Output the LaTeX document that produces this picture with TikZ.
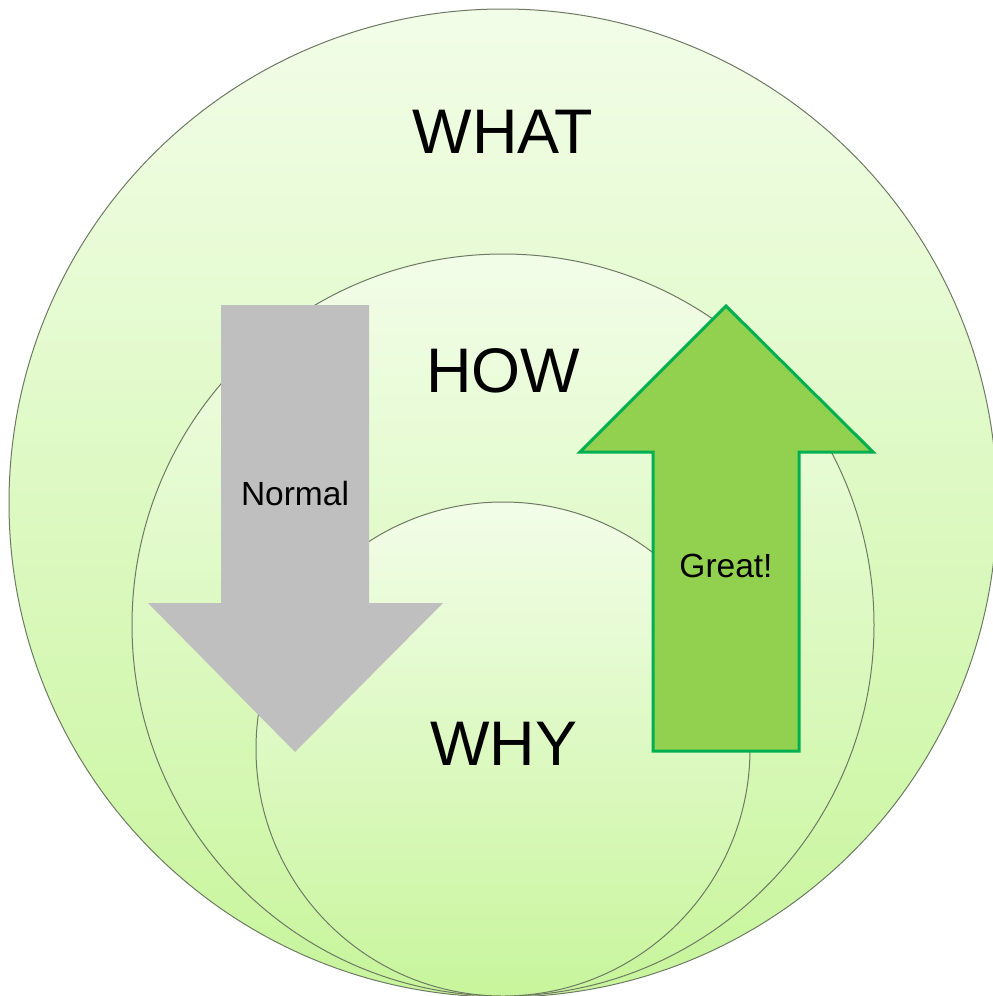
\documentclass[tikz,border=0pt]{standalone}
\usepackage{fontspec}
\setmainfont{Liberation Sans}
\begin{document}
\begin{tikzpicture}[x=1pt,y=-1pt,
  ring/.style={draw=ringline,line width=1pt,top color=ringtop,bottom color=ringbottom},
  bigword/.style={font=\fontsize{63}{63}\selectfont,inner sep=0pt,anchor=base},
  smallword/.style={font=\fontsize{33.5}{33.5}\selectfont,inner sep=0pt,anchor=base},
  greyarrow/.style={fill=arrowgrey,draw=none},
  greenarrow/.style={fill=arrowgreen,draw=arrowedge,line width=3pt,line join=miter}]
\definecolor{ringtop}{HTML}{F2FDE8}
\definecolor{ringbottom}{HTML}{C8F59C}
\definecolor{ringline}{HTML}{6E7A64}
\definecolor{arrowgrey}{HTML}{BFBFBF}
\definecolor{arrowgreen}{HTML}{92D050}
\definecolor{arrowedge}{HTML}{00B050}
\useasboundingbox (0,0) rectangle (993,996);
\begin{scope}
\clip (0,0) rectangle (993,996);
% nested circles, all touching at the bottom
\path[ring] (503,503) circle[radius=494];
\path[ring] (503,625) circle[radius=371];
\path[ring] (503,749) circle[radius=247];
\end{scope}
% downward grey arrow
\path[greyarrow] (221,305) -- (369,305) -- (369,603) -- (443,603) -- (295,752)
  -- (148,603) -- (221,603) -- cycle;
% upward green arrow
\path[greenarrow] (653,751) -- (799,751) -- (799,452) -- (873,452) -- (726,306)
  -- (580,452) -- (653,452) -- cycle;
\node[bigword] (what) at (503,153) {WHAT};
\node[bigword] (how) at (503,392) {HOW};
\node[bigword] (why) at (504,765) {WHY};
\node[smallword] (normal) at (295,505) {Normal};
\node[smallword] (great) at (726,577) {Great!};
\end{tikzpicture}
\end{document}
